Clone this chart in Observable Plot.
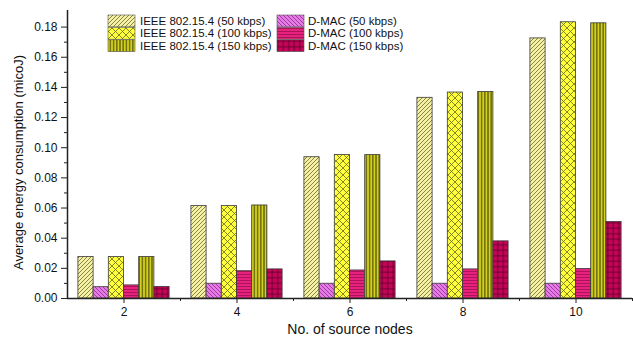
<!DOCTYPE html>
<html>
<head>
<meta charset="utf-8">
<script src="https://cdn.jsdelivr.net/npm/d3@7"></script>
<script src="https://cdn.jsdelivr.net/npm/@observablehq/plot@0.6"></script>
<style>
  html, body { margin: 0; padding: 0; background: #fff; }
</style>
</head>
<body>
<div id="chart"></div>
<script>
// ---- data ----
const nodes   = [2, 4, 6, 8, 10];
const ieee50  = [0.0275, 0.0613, 0.0937, 0.1331, 0.1725];
const ieee100 = [0.0275, 0.0613, 0.0952, 0.1366, 0.1832];
const ieee150 = [0.0275, 0.0617, 0.0951, 0.1369, 0.1825];
const dmac50  = [0.0075, 0.0098, 0.0098, 0.0098, 0.0098];
const dmac100 = [0.0087, 0.0181, 0.0186, 0.0193, 0.0195];
const dmac150 = [0.0077, 0.0193, 0.0246, 0.0379, 0.0507];
const seriesNames = [
  "IEEE 802.15.4 (50 kbps)", "D-MAC (50 kbps)",
  "IEEE 802.15.4 (100 kbps)", "D-MAC (100 kbps)",
  "IEEE 802.15.4 (150 kbps)", "D-MAC (150 kbps)"
];
const seriesValues = [ieee50, dmac50, ieee100, dmac100, ieee150, dmac150];
const yTicks = [0, 0.02, 0.04, 0.06, 0.08, 0.10, 0.12, 0.14, 0.16, 0.18];
const yMinor = [0.01, 0.03, 0.05, 0.07, 0.09, 0.11, 0.13, 0.15, 0.17];
const xMinor = [3, 5, 7, 9, 11];

const patternIds = ["pI50", "pD50", "pI100", "pD100", "pI150", "pD150"];
const barW = 0.269;

const rows = [];
seriesValues.forEach((vals, i) => {
  vals.forEach((v, j) => rows.push({series: i, node: nodes[j], value: v}));
});

const font = "'Liberation Sans', Arial, sans-serif";

const marks = [];
patternIds.forEach((pid, i) => {
  marks.push(Plot.rectY(rows.filter(d => d.series === i), {
    x1: d => d.node + (d.series - 3) * barW,
    x2: d => d.node + (d.series - 2) * barW,
    y1: 0,
    y2: "value",
    fill: `url(#${pid})`,
    stroke: "#3a3a3a",
    strokeWidth: 0.8
  }));
});

const chart = Plot.plot({
  width: 633,
  height: 342,
  marginLeft: 67,
  marginRight: 1,
  marginTop: 10,
  marginBottom: 44,
  style: {fontFamily: font, fontSize: "12px", color: "#111", background: "#fff"},
  x: {type: "linear", domain: [1, 11]},
  y: {domain: [0, 0.191]},
  marks: [
    ...marks,
    Plot.ruleY([0], {stroke: "#222", strokeWidth: 1.3}),
    Plot.ruleX([1], {stroke: "#222", strokeWidth: 1.5}),
    Plot.axisX({ticks: nodes, tickSize: 5, tickPadding: 4, label: null, fontSize: 12, stroke: "#222"}),
    Plot.axisX({ticks: xMinor, tickSize: 3, label: null, tickFormat: () => "", stroke: "#222"}),
    Plot.axisY({ticks: yTicks, tickSize: 6, tickPadding: 4, tickFormat: d3.format(".2f"), label: null, fontSize: 12, stroke: "#222"}),
    Plot.axisY({ticks: yMinor, tickSize: 3, label: null, tickFormat: () => "", stroke: "#222"}),
    Plot.text(["Average energy consumption (micoJ)"], {frameAnchor: "left", textAnchor: "middle", rotate: -90, dx: -49, dy: 8, fontSize: 13, fill: "#111"}),
    Plot.text(["No. of source nodes"], {frameAnchor: "bottom", dy: 35, fontSize: 14, fill: "#111"})
  ]
});

// ---- patterns ----
const svg = d3.select(chart);
const defs = svg.insert("defs", ":first-child");
function pat(id, w, h, bg, lines, stroke, sw) {
  const p = defs.append("pattern").attr("id", id).attr("patternUnits", "userSpaceOnUse")
    .attr("width", w).attr("height", h);
  p.append("rect").attr("width", w).attr("height", h).attr("fill", bg);
  lines.forEach(d => p.append("path").attr("d", d).attr("stroke", stroke).attr("stroke-width", sw).attr("fill", "none"));
}
pat("pI50", 4, 4, "#f4f0a4", ["M-1,1 L1,-1 M0,4 L4,0 M3,5 L5,3"], "#6f6a2a", 0.8);
pat("pD50", 4, 4, "#e67ae6", ["M-1,3 L1,5 M0,0 L4,4 M3,-1 L5,1"], "#8a2a8a", 0.8);
pat("pI100", 7, 7, "#ffff3a", ["M0,0 L7,7 M7,0 L0,7 M-1,6 L1,8 M6,-1 L8,1 M-1,1 L1,-1 M6,8 L8,6"], "#6a6a1a", 0.8);
pat("pD100", 4, 3, "#e8207e", ["M0,1.5 L4,1.5"], "#8e1048", 0.7);
pat("pI150", 3.2, 4, "#d4d21c", ["M1.6,0 L1.6,4"], "#3a3a06", 1.0);
pat("pD150", 5.5, 5.5, "#c70458", ["M0,2.75 L5.5,2.75 M2.75,0 L2.75,5.5"], "#5a0026", 0.8);

// ---- legend ----
const leg = svg.append("g").attr("font-family", font).attr("font-size", 11.5).attr("fill", "#111")
  .attr("text-anchor", "start");
const cols = [{sx: 108, tx: 140}, {sx: 277, tx: 308}];
const order = [[0, 2, 4], [1, 3, 5]];
order.forEach((col, c) => {
  col.forEach((si, r) => {
    const y = 15 + r * 12.4;
    leg.append("rect").attr("x", cols[c].sx).attr("y", y).attr("width", 27).attr("height", 11.8)
      .attr("fill", `url(#${patternIds[si]})`).attr("stroke", "#555").attr("stroke-width", 0.6);
    leg.append("text").attr("x", cols[c].tx).attr("y", y + 6).attr("dy", "0.35em")
      .attr("text-anchor", "start").text(seriesNames[si]);
  });
});

document.getElementById("chart").appendChild(chart);
</script>
</body>
</html>
